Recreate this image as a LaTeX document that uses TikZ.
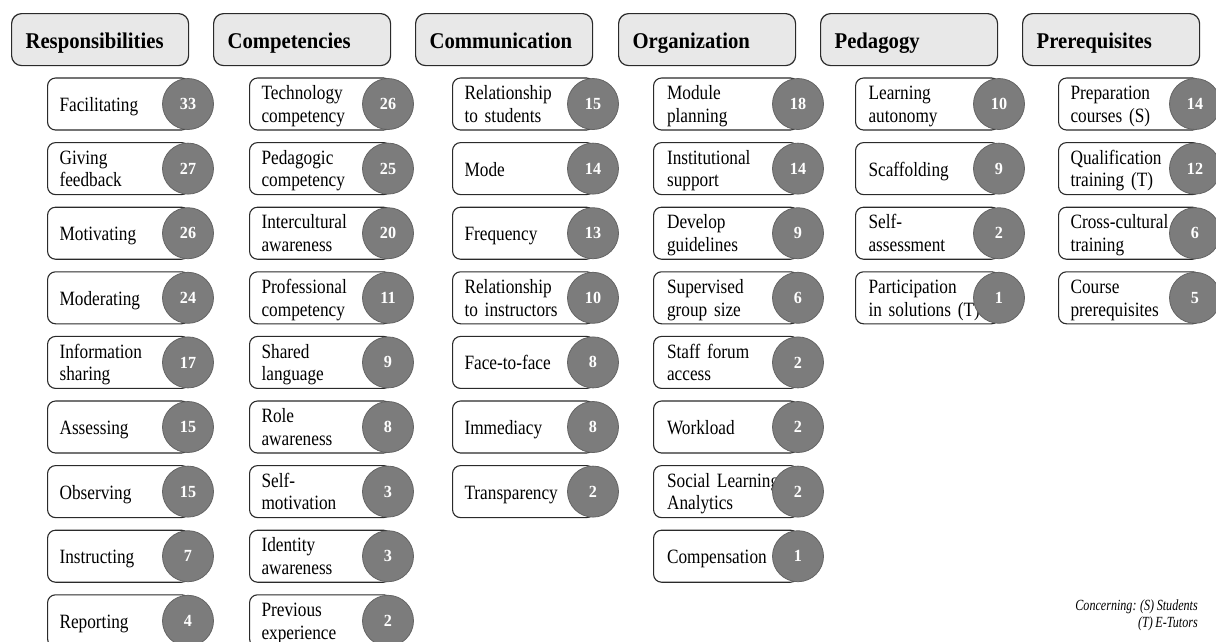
\documentclass[tikz,border=0pt]{standalone}
\usepackage{fontspec}
\setmainfont{Liberation Serif}
\newfontfamily\headfont{Liberation Serif}[FakeStretch=0.92]
\newfontfamily\itemfont{Liberation Serif}[FakeStretch=0.85]
\newfontfamily\countfont{Liberation Serif}[FakeStretch=0.95]
\newfontfamily\notefont{Liberation Serif}[FakeStretch=0.78]
% narrower word spaces for the condensed faces
\newcommand\itemspacing{\spaceskip=3.4pt plus 1pt minus 0.5pt\relax}
\newcommand\notespacing{\spaceskip=2.6pt plus 1pt minus 0.5pt\relax}
\definecolor{headfill}{HTML}{E8E8E8}
\definecolor{edgecol}{HTML}{2A2A2A}
\definecolor{dotfill}{HTML}{7C7C7C}
\definecolor{dotedge}{HTML}{646464}
\tikzset{
  headbox/.style={draw=edgecol, line width=1.2pt, fill=headfill, rounded corners=10pt,
    minimum height=52pt, text width=149pt, inner xsep=14pt, inner ysep=0pt, align=left,
    text height=18pt, text depth=0pt,
    anchor=north west, font=\headfont\bfseries\fontsize{22.5}{24}\selectfont},
  itembox/.style={draw=edgecol, line width=1.1pt, fill=white, rounded corners=8pt,
    minimum height=52pt, text width=118pt, inner xsep=12pt, inner ysep=0pt, align=left,
    anchor=west, font=\itemfont\fontsize{20.3}{22.5}\selectfont\itemspacing},
  % vertical placement of one- and two-line labels
  one/.style={text height=15pt, text depth=0pt},
  two/.style={text height=14pt, text depth=22.5pt},
  countdot/.style={circle, draw=dotedge, line width=0.8pt, fill=dotfill, minimum size=51pt,
    inner sep=0pt, text=white, font=\countfont\bfseries\fontsize{17}{18}\selectfont},
}
% one column of items: #1 name prefix, #2 left edge of the boxes,
% #3 x of the count circles, #4 text/count/lines list
\newcommand\itemcolumn[4]{%
  \foreach \txt/\num/\lines [count=\k from 0] in {#4} {
    \node[itembox, \lines, minimum width=#3-#2] (#1-\k) at (#2, 104+64.6*\k) {\txt};
    \node[countdot] (#1-\k-n) at (#3, 104+64.6*\k) {\num};
  }}
\begin{document}
\begin{tikzpicture}[x=1pt, y=-1pt]
\useasboundingbox (0,0) rectangle (1216,641);
\clip (0,0) rectangle (1216,641);

% category headers
\node[headbox] (resp) at (11,13)   {Responsibilities};
\node[headbox] (comp) at (213,13)  {Competencies};
\node[headbox] (comm) at (415,13)  {Communication};
\node[headbox] (orga) at (618,13)  {Organization};
\node[headbox] (peda) at (820,13)  {Pedagogy};
\node[headbox] (prer) at (1022,13) {Prerequisites};

% items with their counts
\itemcolumn{resp}{47}{188}{{Facilitating}/33/one, {Giving\\feedback}/27/two,
  {Motivating}/26/one, {Moderating}/24/one, {Information\\sharing}/17/two,
  {Assessing}/15/one, {Observing}/15/one, {Instructing}/7/one, {Reporting}/4/one}
\itemcolumn{comp}{249}{388}{{Technology\\competency}/26/two,
  {Pedagogic\\competency}/25/two, {Intercultural\\awareness}/20/two,
  {Professional\\competency}/11/two, {Shared\\language}/9/two,
  {Role\\awareness}/8/two, {Self-\\motivation}/3/two, {Identity\\awareness}/3/two,
  {Previous\\experience}/2/two}
\itemcolumn{comm}{452}{593}{{Relationship\\to students}/15/two, {Mode}/14/one,
  {Frequency}/13/one, {Relationship\\to instructors}/10/two, {Face-to-face}/8/one,
  {Immediacy}/8/one, {Transparency}/2/one}
\itemcolumn{orga}{653}{798}{{Module\\planning}/18/two, {Institutional\\support}/14/two,
  {Develop\\guidelines}/9/two, {Supervised\\group size}/6/two,
  {Staff forum\\access}/2/two, {Workload}/2/one, {Social Learning\\Analytics}/2/two,
  {Compensation}/1/one}
\itemcolumn{peda}{855}{999}{{Learning\\autonomy}/10/two, {Scaffolding}/9/one,
  {Self-\\assessment}/2/two, {Participation\\in solutions (T)}/1/two}
\itemcolumn{prer}{1058}{1195}{{Preparation\\courses (S)}/14/two,
  {Qualification\\training (T)}/12/two, {Cross-cultural\\training}/6/two,
  {Course\\prerequisites}/5/two}

% legend
\node[anchor=north east, align=right, inner sep=0pt,
  font=\notefont\itshape\fontsize{15.5}{16.5}\selectfont\notespacing] (legend) at (1198,600)
  {Concerning: (S) Students\\(T) E-Tutors};
\end{tikzpicture}
\end{document}
